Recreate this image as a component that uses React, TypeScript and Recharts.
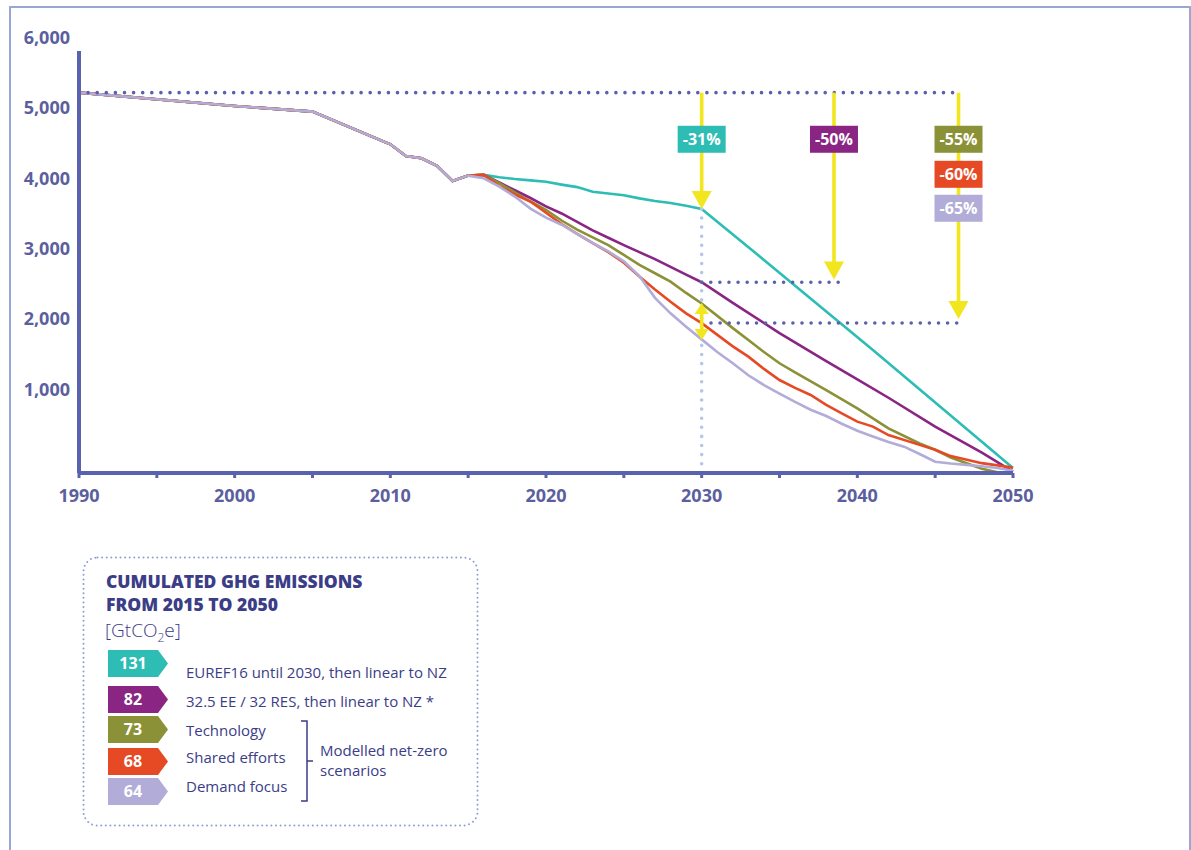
import React from "react";
import { LineChart, Line, XAxis, YAxis, ReferenceLine, ReferenceDot } from "recharts";

// values in MtCO2e
const historyYears = [1990, 2000, 2005, 2010, 2011, 2012, 2013, 2014, 2015];
const historyValues = [5408, 5219, 5138, 4674, 4508, 4475, 4366, 4152, 4228];

const scenarioYears = [
  2016, 2017, 2018, 2019, 2020, 2021, 2022, 2023, 2024, 2025, 2026, 2027,
  2028, 2029, 2030, 2031, 2032, 2033, 2034, 2035, 2036, 2037, 2038, 2039,
  2040, 2041, 2042, 2043, 2044, 2045, 2046, 2047, 2048, 2049, 2050,
];
const N = null;
const euref16 = [
  4238, 4205, 4180, 4160, 4140, 4100, 4065, 4000, 3975, 3950, 3905, 3868,
  3840, 3800, 3755, N, N, N, 3030, N, N, N, N, N,
  N, 1750, N, N, N, N, N, N, N, N, 70,
];
const ee32 = [
  4238, 4130, 4020, 3910, 3790, 3690, 3570, 3450, 3345, 3240, 3140, 3040,
  2930, 2820, 2712, N, 2420, N, N, 1990, N, N, 1590, N,
  1330, N, 1070, N, N, 660, N, N, 290, N, 20,
];
const technology = [
  4238, 4120, 3990, 3860, 3740, 3590, 3460, 3350, 3240, 3100, 2958, 2840,
  2720, 2560, 2410, N, 2060, 1891, 1720, 1560, 1430, N, 1180, N,
  920, N, 635, N, 420, 330, 220, N, 60, 10, 0,
];
const sharedEfforts = [
  4238, 4080, 3960, 3860, 3700, 3540, 3400, 3270, 3140, 2990, 2795, 2610,
  2436, 2270, 2130, N, 1800, 1654, 1480, 1322, 1210, 1109, 970, 849,
  730, 660, 540, N, 400, 330, 240, N, 140, N, 76,
];
const demandFocus = [
  4191, 4071, 3930, 3760, 3630, 3530, 3400, 3270, 3150, 3010, 2800, 2490,
  2270, 2080, 1900, 1720, 1560, 1390, 1250, 1130, 1010, 900, 810, 700,
  600, 520, 440, 374, 270, 160, 135, 115, 95, 70, 33,
];

const xTicks = [1990, 1995, 2000, 2005, 2010, 2015, 2020, 2025, 2030, 2035, 2040, 2045, 2050];
const yTicks = [0, 1000, 2000, 3000, 4000, 5000, 6000];

const base1990 = 5408;
const euref2030 = 3755;
const ee2030 = 2712;
const nzLevel = 2133;

const series = [
  { key: "euref", name: "EUREF16 until 2030, then linear to NZ", total: "131", color: "#2dbdb4", values: euref16 },
  { key: "ee", name: "32.5 EE / 32 RES, then linear to NZ *", total: "82", color: "#8a2584", values: ee32 },
  { key: "tech", name: "Technology", total: "73", color: "#8b9137", values: technology },
  { key: "shared", name: "Shared efforts", total: "68", color: "#e64a25", values: sharedEfforts },
  { key: "demand", name: "Demand focus", total: "64", color: "#b1acd8", values: demandFocus },
];

const badges = [
  { x: 2030, y: 4745, text: "-31%", color: "#2dbdb4" },
  { x: 2038.5, y: 4745, text: "-50%", color: "#8a2584" },
  { x: 2046.5, y: 4745, text: "-55%", color: "#8b9137" },
  { x: 2046.5, y: 4247, text: "-60%", color: "#e64a25" },
  { x: 2046.5, y: 3764, text: "-65%", color: "#b1acd8" },
];

const arrows = [
  { x: 2030, to: euref2030 },
  { x: 2038.5, to: 2750 },
  { x: 2046.5, to: 2190 },
];

const data = [
  ...historyYears.map((year, i) => {
    const row: any = { year };
    series.forEach((s) => (row[s.key] = historyValues[i]));
    return row;
  }),
  ...scenarioYears.map((year, i) => {
    const row: any = { year };
    series.forEach((s) => (row[s.key] = s.values[i]));
    return row;
  }),
];

const AXIS = "#5a62ad";
const LABEL = "#5c5f9e";
const INK = "#3b3d86";
const YELLOW = "#f2e61f";
const DOTS = "#5b60ae";
const FONT = "'Open Sans', sans-serif";

const XTick = (props: any) => {
  const { x, y, payload } = props;
  if (payload.value % 10 !== 0) return <g />;
  return (
    <text x={x} y={y + 22} textAnchor="middle" fill={LABEL} fontSize={18} fontWeight={700} fontFamily={FONT}>
      {payload.value}
    </text>
  );
};

const YTick = (props: any) => {
  const { x, y, payload } = props;
  if (payload.value === 0) return <g />;
  return (
    <text x={x} y={y - 7} textAnchor="end" fill={LABEL} fontSize={18} fontWeight={700} fontFamily={FONT}>
      {payload.value.toLocaleString("en-US")}
    </text>
  );
};

const headDown = (p: any) => (
  <path d={`M${p.cx - 10},${p.cy - 18} L${p.cx + 10},${p.cy - 18} L${p.cx},${p.cy} Z`} fill={YELLOW} />
);
const smallDown = (p: any) => (
  <path d={`M${p.cx - 7},${p.cy - 11} L${p.cx + 7},${p.cy - 11} L${p.cx},${p.cy} Z`} fill={YELLOW} />
);
const smallUp = (p: any) => (
  <path d={`M${p.cx - 7},${p.cy + 11} L${p.cx + 7},${p.cy + 11} L${p.cx},${p.cy} Z`} fill={YELLOW} />
);

const badgeShape = (text: string, color: string) => (p: any) => (
  <g>
    <rect x={p.cx - 24} y={p.cy - 13.5} width={48} height={27} fill={color} />
    <text x={p.cx} y={p.cy + 6} textAnchor="middle" fill="#fff" fontSize={16} fontWeight={700} fontFamily={FONT}>
      {text}
    </text>
  </g>
);

const dotted = { strokeDasharray: "0 9.1", strokeLinecap: "round" as const, strokeWidth: 3.6 };

function Legend() {
  const tagTops = [94, 130, 160, 192, 222];
  const textMid = [117, 146, 175, 202, 231];
  return (
    <svg width={398} height={272} style={{ position: "absolute", left: 82, top: 556 }}>
      <rect x={1.5} y={1.5} width={394} height={268} rx={14} fill="none" stroke="#8d9fd3" strokeWidth={2}
        strokeDasharray="0 4.6" strokeLinecap="round" />
      <text x={24} y={32} fill={INK} fontSize={17.5} fontWeight={800} fontFamily={FONT}>CUMULATED GHG EMISSIONS</text>
      <text x={24} y={55} fill={INK} fontSize={17.5} fontWeight={800} fontFamily={FONT}>FROM 2015 TO 2050</text>
      <text x={23} y={81} fill={INK} fontSize={19} fontWeight={300} fontFamily={FONT}>
        [GtCO<tspan fontSize={12} dy={5}>2</tspan><tspan dy={-5}>e]</tspan>
      </text>
      {series.map((s, i) => {
        const t = tagTops[i];
        return (
          <g key={s.key}>
            <path d={`M26,${t} L76,${t} L86,${t + 13.5} L76,${t + 27} L26,${t + 27} Z`} fill={s.color} />
            <text x={51} y={t + 19} textAnchor="middle" fill="#fff" fontSize={16} fontWeight={700} fontFamily={FONT}>
              {s.total}
            </text>
            <text x={104} y={textMid[i] + 5} fill={INK} fontSize={15} fontFamily={FONT}>{s.name}</text>
          </g>
        );
      })}
      <path d="M219,165 L225,165 L225,245 L219,245 M225,205 L231,205" fill="none" stroke={INK} strokeWidth={1.5} />
      <text x={238} y={200} fill={INK} fontSize={15} fontFamily={FONT}>Modelled net-zero</text>
      <text x={238} y={220} fill={INK} fontSize={15} fontFamily={FONT}>scenarios</text>
    </svg>
  );
}

export default function App() {
  return (
    <div style={{ position: "absolute", left: 0, top: 0, width: 1191, height: 850, background: "#fff", overflow: "hidden" }}>
      <div style={{ position: "absolute", left: 9, top: 6, width: 1178, height: 900, borderLeft: "2px solid #9aa6d4", borderTop: "2px solid #9aa6d4", borderRight: "2px solid #9aa6d4" }} />
      <div style={{ position: "absolute", left: 0, top: 0 }}>
        <LineChart width={1100} height={530} data={data} margin={{ top: 51, right: 87, bottom: 0, left: 9 }}>
          <XAxis
            type="number"
            dataKey="year"
            domain={[1990, 2050]}
            ticks={xTicks}
            interval={0}
            height={57}
            tickSize={5}
            axisLine={{ stroke: AXIS, strokeWidth: 4 }}
            tickLine={{ stroke: AXIS, strokeWidth: 3 }}
            tick={XTick}
          />
          <YAxis
            type="number"
            domain={[0, 6000]}
            ticks={yTicks}
            interval={0}
            width={70}
            tickSize={0}
            tickMargin={9}
            allowDataOverflow
            axisLine={{ stroke: AXIS, strokeWidth: 4 }}
            tickLine={false}
            tick={YTick}
          />
          {series.map((s) => (
            <Line
              key={s.key}
              type="linear"
              dataKey={s.key}
              stroke={s.color}
              strokeWidth={2.6}
              dot={false}
              connectNulls
              isAnimationActive={false}
            />
          ))}
          <ReferenceLine segment={[{ x: 2030, y: euref2030 }, { x: 2030, y: 0 }]} stroke="#b4c7ea" {...dotted} />
          <ReferenceLine segment={[{ x: 1990, y: base1990 }, { x: 2046.5, y: base1990 }]} stroke={DOTS} {...dotted} />
          <ReferenceLine segment={[{ x: 2030, y: ee2030 }, { x: 2038.9, y: ee2030 }]} stroke={DOTS} {...dotted} />
          <ReferenceLine segment={[{ x: 2030.6, y: nzLevel }, { x: 2046.5, y: nzLevel }]} stroke={DOTS} {...dotted} />
          {arrows.map((a, i) => (
            <ReferenceLine key={`s${i}`} segment={[{ x: a.x, y: base1990 }, { x: a.x, y: a.to + 200 }]} stroke={YELLOW} strokeWidth={3.6} />
          ))}
          {arrows.map((a, i) => (
            <ReferenceDot key={`h${i}`} x={a.x} y={a.to} r={1} shape={headDown} />
          ))}
          <ReferenceLine segment={[{ x: 2030, y: 2300 }, { x: 2030, y: 2000 }]} stroke={YELLOW} strokeWidth={3.6} />
          <ReferenceDot x={2030} y={2417} r={1} shape={smallUp} />
          <ReferenceDot x={2030} y={1891} r={1} shape={smallDown} />
          {badges.map((b) => (
            <ReferenceDot key={b.text} x={b.x} y={b.y} r={1} shape={badgeShape(b.text, b.color)} />
          ))}
        </LineChart>
      </div>
      <Legend />
    </div>
  );
}
